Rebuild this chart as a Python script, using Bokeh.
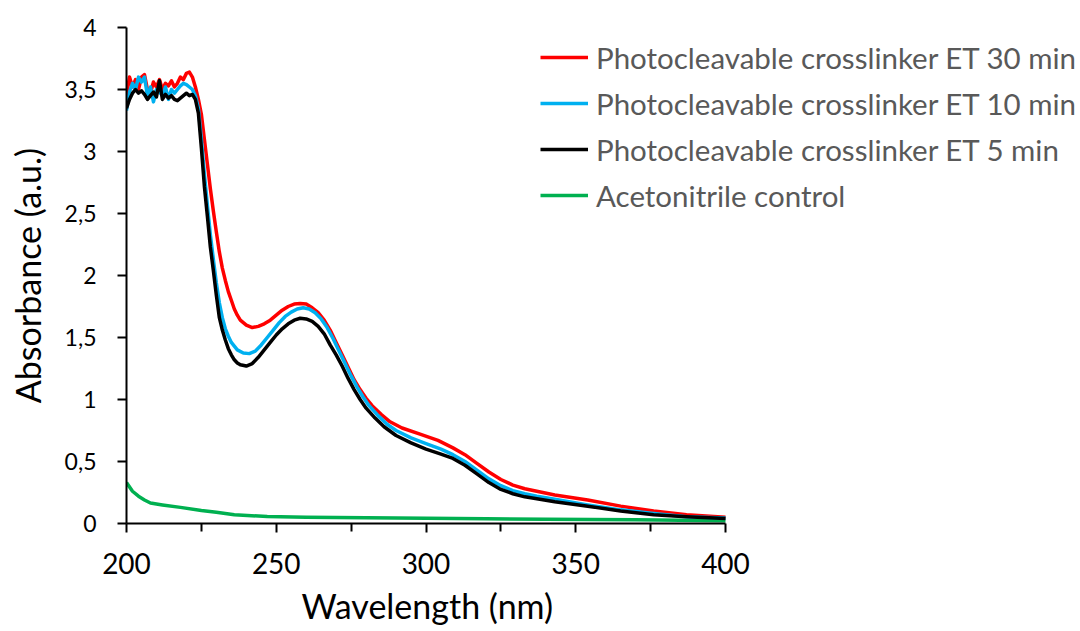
from bokeh.plotting import figure
from bokeh.models import FixedTicker, Legend, LegendItem, Title
from bokeh.embed import file_html
from bokeh.resources import INLINE

FONT = "Lato"

# ---- data ----
wl_red = [200, 201, 202, 203, 204, 205, 206, 207, 208, 209, 210, 211, 212, 213, 214, 215, 216, 217, 218, 219, 220, 221, 222, 223,
          224, 225, 226, 227, 228, 229, 230, 231, 232, 233, 234, 235, 236, 237, 238, 240, 242, 244, 246, 248, 250, 252, 254, 256,
          258, 260, 262, 264, 266, 268, 270, 272, 274, 276, 278, 280, 282, 285, 288, 292, 298, 304, 309, 313, 317, 321, 325, 329,
          333, 337, 343, 354, 365, 376, 387, 400]
abs_red = [3.45, 3.60, 3.52, 3.58, 3.50, 3.60, 3.62, 3.50, 3.47, 3.56, 3.52, 3.58, 3.50, 3.55, 3.53, 3.57, 3.52, 3.55, 3.60, 3.58, 3.63, 3.64, 3.60, 3.52,
           3.42, 3.30, 3.10, 2.90, 2.70, 2.52, 2.35, 2.19, 2.06, 1.96, 1.87, 1.80, 1.73, 1.68, 1.64, 1.60, 1.58, 1.59, 1.61, 1.64, 1.68, 1.72, 1.75, 1.77,
           1.775, 1.77, 1.74, 1.70, 1.64, 1.56, 1.46, 1.36, 1.26, 1.16, 1.08, 1.01, 0.95, 0.88, 0.82, 0.77, 0.72, 0.67, 0.61, 0.555, 0.485, 0.415, 0.355, 0.31,
           0.28, 0.26, 0.23, 0.19, 0.14, 0.10, 0.07, 0.05]

wl_blue = [200, 201, 202, 203, 204, 205, 206, 207, 208, 209, 210, 211, 212, 213, 214, 215, 216, 217, 218, 219, 220, 221, 222, 223,
           224, 225, 226, 227, 228, 229, 230, 231, 232, 233, 234, 235, 236, 237, 239, 241, 243, 245, 247, 249, 251, 253, 255, 257,
           259, 261, 263, 265, 267, 269, 271, 273, 275, 277, 279, 281, 284, 287, 290, 295, 300, 305, 309, 313, 317, 321, 325, 329,
           333, 337, 343, 354, 365, 376, 387, 400]
abs_blue = [3.33, 3.48, 3.55, 3.50, 3.60, 3.56, 3.60, 3.45, 3.52, 3.40, 3.50, 3.48, 3.45, 3.52, 3.42, 3.50, 3.47, 3.50, 3.53, 3.55, 3.54, 3.52, 3.50, 3.45,
            3.35, 3.10, 2.82, 2.57, 2.33, 2.13, 1.94, 1.78, 1.66, 1.57, 1.51, 1.46, 1.43, 1.40, 1.375, 1.37, 1.39, 1.44, 1.50, 1.56, 1.62, 1.67, 1.705, 1.73,
            1.74, 1.73, 1.70, 1.65, 1.58, 1.49, 1.39, 1.29, 1.19, 1.10, 1.02, 0.95, 0.87, 0.80, 0.75, 0.69, 0.645, 0.60, 0.555, 0.50, 0.43, 0.36, 0.305, 0.265,
            0.24, 0.22, 0.195, 0.15, 0.11, 0.08, 0.055, 0.045]

wl_black = [200, 201, 202, 203, 204, 205, 206, 207, 208, 209, 210, 211, 212, 213, 214, 215, 216, 217, 218, 219, 220, 221, 222, 223,
            224, 225, 226, 227, 228, 229, 230, 231, 232, 233, 234, 235, 236, 237, 238, 240, 242, 244, 246, 248, 250, 252, 254, 256,
            258, 260, 262, 264, 266, 268, 270, 272, 274, 276, 278, 280, 283, 286, 290, 295, 300, 305, 309, 313, 317, 321, 325, 329,
            333, 337, 343, 354, 365, 376, 387, 400]
abs_black = [3.35, 3.42, 3.47, 3.50, 3.47, 3.49, 3.46, 3.42, 3.45, 3.48, 3.44, 3.57, 3.42, 3.46, 3.43, 3.45, 3.42, 3.41, 3.43, 3.45, 3.47, 3.45, 3.46, 3.42,
             3.31, 3.03, 2.72, 2.48, 2.23, 2.04, 1.84, 1.66, 1.56, 1.48, 1.41, 1.36, 1.32, 1.295, 1.28, 1.27, 1.29, 1.34, 1.40, 1.46, 1.52, 1.57, 1.61, 1.64,
             1.655, 1.65, 1.63, 1.59, 1.53, 1.44, 1.36, 1.27, 1.17, 1.08, 1.00, 0.93, 0.85, 0.78, 0.71, 0.65, 0.60, 0.56, 0.525, 0.47, 0.40, 0.33, 0.275, 0.24,
             0.215, 0.20, 0.175, 0.14, 0.10, 0.07, 0.055, 0.04]

wl_green = [200, 202, 204, 206, 208, 212, 218, 225, 230, 236, 247, 260, 270, 300, 320, 340, 370, 400]
abs_green = [0.33, 0.26, 0.22, 0.19, 0.165, 0.15, 0.13, 0.105, 0.09, 0.07, 0.056, 0.05, 0.048, 0.042, 0.038, 0.035, 0.03, 0.022]

series_names = ["Photocleavable crosslinker ET 30 min", "Photocleavable crosslinker ET 10 min",
                "Photocleavable crosslinker ET 5 min", "Acetonitrile control"]
series_colors = ["#FF0000", "#00B0F0", "#000000", "#00B050"]

x_major = [200, 250, 300, 350, 400]
x_minor = [225, 275, 325, 375]
y_ticks = [0, 0.5, 1, 1.5, 2, 2.5, 3, 3.5, 4]
y_labels = ["0", "0,5", "1", "1,5", "2", "2,5", "3", "3,5", "4"]
x_title = "Wavelength (nm)"
y_title = "Absorbance (a.u.)"

# frame spans 126..1080 px; the data axis 200..400 occupies 126..725 px
LEFT, AXIS_END_PX, WIDTH = 126, 725, 1080
x_end = 200 + (WIDTH - LEFT) * (400 - 200) / (AXIS_END_PX - LEFT)

p = figure(width=WIDTH, height=631, output_backend="svg", toolbar_location=None,
           x_range=(200, x_end), y_range=(0, 4),
           min_border_left=LEFT, min_border_right=0, min_border_top=27, min_border_bottom=108)
p.outline_line_color = None
p.xgrid.visible = False
p.ygrid.visible = False
p.background_fill_color = "white"
p.border_fill_color = "white"

renderers = []
for xs, ys, c in [(wl_green, abs_green, series_colors[3]), (wl_red, abs_red, series_colors[0]),
                  (wl_blue, abs_blue, series_colors[1]), (wl_black, abs_black, series_colors[2])]:
    r = p.line(xs, ys, line_color=c, line_width=3.5, line_join="round")
    renderers.append(r)
r_green, r_red, r_blue, r_black = renderers

# axes
p.xaxis.ticker = FixedTicker(ticks=x_major, minor_ticks=x_minor)
p.xaxis.bounds = (200, 400)
p.yaxis.ticker = FixedTicker(ticks=y_ticks)
p.yaxis.major_label_overrides = {t: l for t, l in zip(y_ticks, y_labels)}
for ax in (p.xaxis, p.yaxis):
    ax.axis_line_color = "black"
    ax.axis_line_width = 2
    ax.major_tick_line_color = "black"
    ax.major_tick_line_width = 2
    ax.major_tick_out = 9
    ax.major_tick_in = 0
    ax.major_label_text_font = FONT
    ax.major_label_text_color = "black"
    ax.axis_label_text_font = FONT
    ax.axis_label_text_font_size = "34px"
    ax.axis_label_text_font_style = "normal"
    ax.axis_label_text_color = "black"
p.xaxis.major_label_text_font_size = "28px"
p.yaxis.major_label_text_font_size = "23px"
p.xaxis.minor_tick_line_color = "black"
p.xaxis.minor_tick_line_width = 2
p.xaxis.minor_tick_out = 8
p.xaxis.minor_tick_in = 0
p.yaxis.minor_tick_line_color = None
p.xaxis.major_label_standoff = 20
p.yaxis.major_label_standoff = 21
p.yaxis.axis_label = y_title
p.yaxis.axis_label_standoff = 14

# x-axis title centred under the 200..400 span (not the whole frame)
xt = Title(text=x_title, align="left", offset=175, text_font=FONT, text_font_size="34px",
           text_font_style="normal", text_color="black", standoff=12)
p.add_layout(xt, "below")

legend = Legend(items=[LegendItem(label=series_names[0], renderers=[r_red]),
                       LegendItem(label=series_names[1], renderers=[r_blue]),
                       LegendItem(label=series_names[2], renderers=[r_black]),
                       LegendItem(label=series_names[3], renderers=[r_green])],
                location=(414, 305))
legend.label_text_font = FONT
legend.label_text_font_size = "29.5px"
legend.label_text_color = "#595959"
legend.glyph_width = 48
legend.glyph_height = 46
legend.label_height = 46
legend.label_standoff = 8
legend.spacing = 0
legend.padding = 0
legend.margin = 0
legend.border_line_color = None
legend.background_fill_alpha = 0
p.add_layout(legend, "center")

open("out.html", "w").write(file_html(p, INLINE))
